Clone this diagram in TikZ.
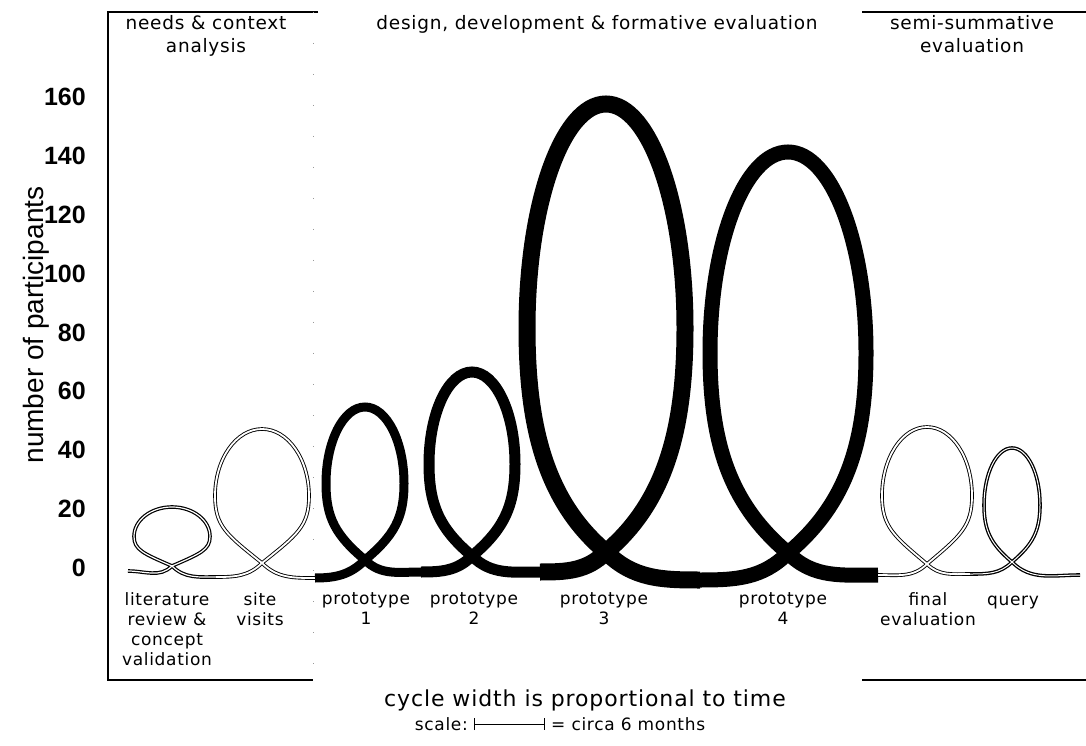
\documentclass[tikz,border=0pt]{standalone}
\usepackage{fontspec}
\setmainfont{DejaVu Sans}
\newfontfamily\labelfont{DejaVu Sans}[LetterSpace=4]
\newfontfamily\axisfont{Liberation Sans}
\usetikzlibrary{arrows.meta,positioning,calc}

% one cycle: in from the left, through the crossing, round the loop, out to the right
% #1 style, #2 from, #3 #4 crossing, #5 half width, #6 top, #7 to
\newcommand{\drawcycle}[7]{%
  \pgfmathsetmacro\cmid{#4+0.5*(#6-#4)}
  \pgfmathsetmacro\clow{0.45*(\cmid-#4)}
  \pgfmathsetmacro\chigh{0.552*(#6-\cmid)}
  \pgfmathsetmacro\cwid{0.552*#5}
  \pgfmathsetmacro\cdx{0.75*#5}
  \pgfmathsetmacro\cdy{min(0.63*#5,0.42*(\cmid-#4))}
  \draw[#1] (#2) to[out=0,in=-135] (#3,#4)
    .. controls +(\cdx,\cdy) and +(0,-\clow) .. ({#3+#5},\cmid)
    .. controls +(0,\chigh) and +(\cwid,0) .. (#3,#6)
    .. controls +(-\cwid,0) and +(0,\chigh) .. ({#3-#5},\cmid)
    .. controls +(0,-\clow) and +(-\cdx,\cdy) .. (#3,#4)
    to[out=-45,in=180] (#7);}

\begin{document}
\begin{tikzpicture}[x=1pt,y=1pt,
    hdr/.style={font=\labelfont\fontsize{18.5}{23}\selectfont, align=center, anchor=north, inner sep=0pt},
    lbl/.style={font=\labelfont\fontsize{17}{20}\selectfont, align=center, anchor=north, inner sep=0pt},
    sml/.style={font=\labelfont\fontsize{17}{20}\selectfont, inner sep=0pt},
    num/.style={font=\axisfont\bfseries\fontsize{25}{25}\selectfont, anchor=east, inner sep=0pt},
    frame/.style={draw=black, line width=1.6pt},
    thinloop/.style={draw=black, line width=0.9pt, double=white, double distance=1.8pt},
    thickloop/.style={draw=black, line width=#1}
]
\useasboundingbox (0,0) rectangle (1086,745);

% axis
\foreach \v in {0,20,...,160}
  \node[num] (n\v) at (86,{177+2.94375*\v}) {\v};
\node[font=\axisfont\fontsize{28}{28}\selectfont, rotate=90, inner sep=0pt] (ytitle) at (36,420) {number of participants};

% phases
\draw[frame] (318,733) -- (108,733) -- (108,65) -- (313,65);
\draw[black!40, dash pattern=on 1pt off 30pt] (313,733) -- (313,65);
\draw[frame] (862,733) -- (1086,733);
\draw[frame] (862,65) -- (1086,65);
\node[hdr] (needs) at (206,730) {needs \& context\\analysis};
\node[hdr] (design) at (597,730) {design, development \& formative evaluation};
\node[hdr] (summ) at (972,730) {semi-summative\\evaluation};

% cycles
\coordinate (s0) at (128,174);
\coordinate (s1) at (216,168);
\coordinate (s2) at (315,167);
\coordinate (s3) at (421,173);
\coordinate (s4) at (540,173);
\coordinate (s5) at (700,165);
\coordinate (s6) at (878,170);
\coordinate (s7) at (970,171);
\coordinate (s8) at (1080,170);
\drawcycle{thinloop, line width=1.2pt, double distance=1.2pt}{s0}{172}{179}{38}{238}{s1}
\drawcycle{thinloop}{s1}{262}{182}{47}{316}{s2}
\drawcycle{thickloop=9pt}{s2}{365}{185}{39}{338}{s3}
\drawcycle{thickloop=11pt}{s3}{472}{189}{43}{373}{s4}
\drawcycle{thickloop=17pt}{s4}{606}{193}{79}{641}{s5}
\drawcycle{thickloop=15pt}{s5}{788}{192}{78}{593}{s6}
\drawcycle{thinloop}{s6}{927}{181}{45}{318}{s7}
\drawcycle{thinloop, line width=1.3pt, double distance=1pt}{s7}{1012}{183}{28}{297}{s8}

% cycle names
\node[lbl] (lit) at (167,153) {literature\\review \&\\concept\\validation};
\node[lbl] (site) at (260,153) {site\\visits};
\node[lbl] (p1) at (366,153) {prototype\\1};
\node[lbl] (p2) at (474,153) {prototype\\2};
\node[lbl] (p3) at (604,153) {prototype\\3};
\node[lbl] (p4) at (783,153) {prototype\\4};
\node[lbl] (final) at (928,153) {final\\evaluation};
\node[lbl] (query) at (1013,153) {\vphantom{l}query};

% time scale
\node[font=\labelfont\fontsize{22}{26}\selectfont, inner sep=0pt] (cap) at (585,45) {cycle width is proportional to time};
\coordinate (b0) at (474,21);
\coordinate (b1) at (545,21);
\draw[{Bar[width=12pt]}-{Bar[width=12pt]}, line width=0.8pt] (b0) -- (b1);
\node[sml, left=6pt of b0] (scl) {scale:};
\node[sml, right=6pt of b1] (circa) {= circa 6 months};
\end{tikzpicture}
\end{document}
